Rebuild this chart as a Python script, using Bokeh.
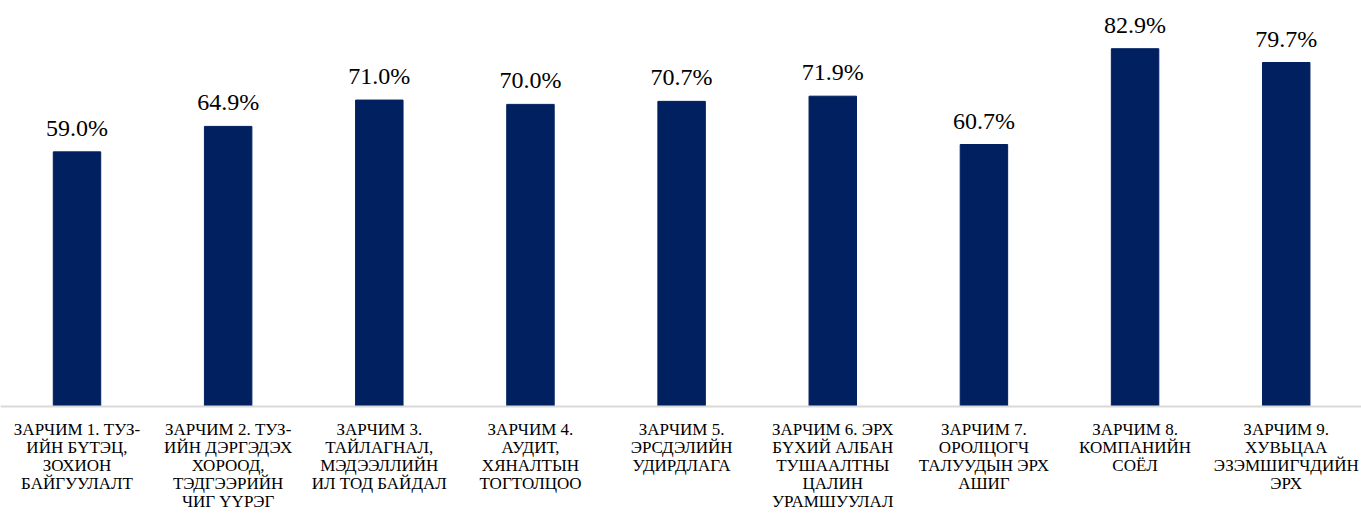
from bokeh.plotting import figure
from bokeh.models import ColumnDataSource, LabelSet, Range1d, Span
from bokeh.core.properties import value
from bokeh.embed import file_html
from bokeh.resources import INLINE

categories = [
    "ЗАРЧИМ 1. ТУЗ-\nИЙН БҮТЭЦ,\nЗОХИОН\nБАЙГУУЛАЛТ",
    "ЗАРЧИМ 2. ТУЗ-\nИЙН ДЭРГЭДЭХ\nХОРООД,\nТЭДГЭЭРИЙН\nЧИГ ҮҮРЭГ",
    "ЗАРЧИМ 3.\nТАЙЛАГНАЛ,\nМЭДЭЭЛЛИЙН\nИЛ ТОД БАЙДАЛ",
    "ЗАРЧИМ 4.\nАУДИТ,\nХЯНАЛТЫН\nТОГТОЛЦОО",
    "ЗАРЧИМ 5.\nЭРСДЭЛИЙН\nУДИРДЛАГА",
    "ЗАРЧИМ 6. ЭРХ\nБҮХИЙ АЛБАН\nТУШААЛТНЫ\nЦАЛИН\nУРАМШУУЛАЛ",
    "ЗАРЧИМ 7.\nОРОЛЦОГЧ\nТАЛУУДЫН ЭРХ\nАШИГ",
    "ЗАРЧИМ 8.\nКОМПАНИЙН\nСОЁЛ",
    "ЗАРЧИМ 9.\nХУВЬЦАА\nЭЗЭМШИГЧДИЙН\nЭРХ",
]
values = [59.0, 64.9, 71.0, 70.0, 70.7, 71.9, 60.7, 82.9, 79.7]
value_labels = ["59.0%", "64.9%", "71.0%", "70.0%", "70.7%", "71.9%", "60.7%", "82.9%", "79.7%"]

xs = list(range(len(categories)))
src = ColumnDataSource(dict(x=xs, top=values, lab=value_labels, cat=categories,
                            base=[0] * len(xs)))

FONT = "Liberation Serif"

p = figure(width=1361, height=514, output_backend="svg", toolbar_location=None,
           x_range=Range1d(-0.5061, 8.498), y_range=Range1d(-25.02, 94.07),
           min_border_left=0, min_border_right=0, min_border_top=0, min_border_bottom=0)

p.vbar(x="x", top="top", bottom=0, width=0.314, source=src, color="#002060")

# axis baseline at zero
p.add_layout(Span(location=0, dimension="width", line_color="#d9d9d9", line_width=2))

labels = LabelSet(x="x", y="top", text="lab", source=src, text_align="center",
                  text_baseline="alphabetic", y_offset=16, text_font=value(FONT),
                  text_font_size=value("24px"), text_color="#000000")
p.add_layout(labels)

# category labels below the baseline
p.text(x="x", y="base", text="cat", source=src, text_align="center",
       text_baseline="top", y_offset=13, text_font=value(FONT),
       text_font_size=value("17px"), text_color="#000000", text_line_height=0.96)

p.xaxis.visible = False
p.yaxis.visible = False
p.xgrid.visible = False
p.ygrid.visible = False
p.outline_line_color = None

open("out.html", "w").write(file_html(p, INLINE))
